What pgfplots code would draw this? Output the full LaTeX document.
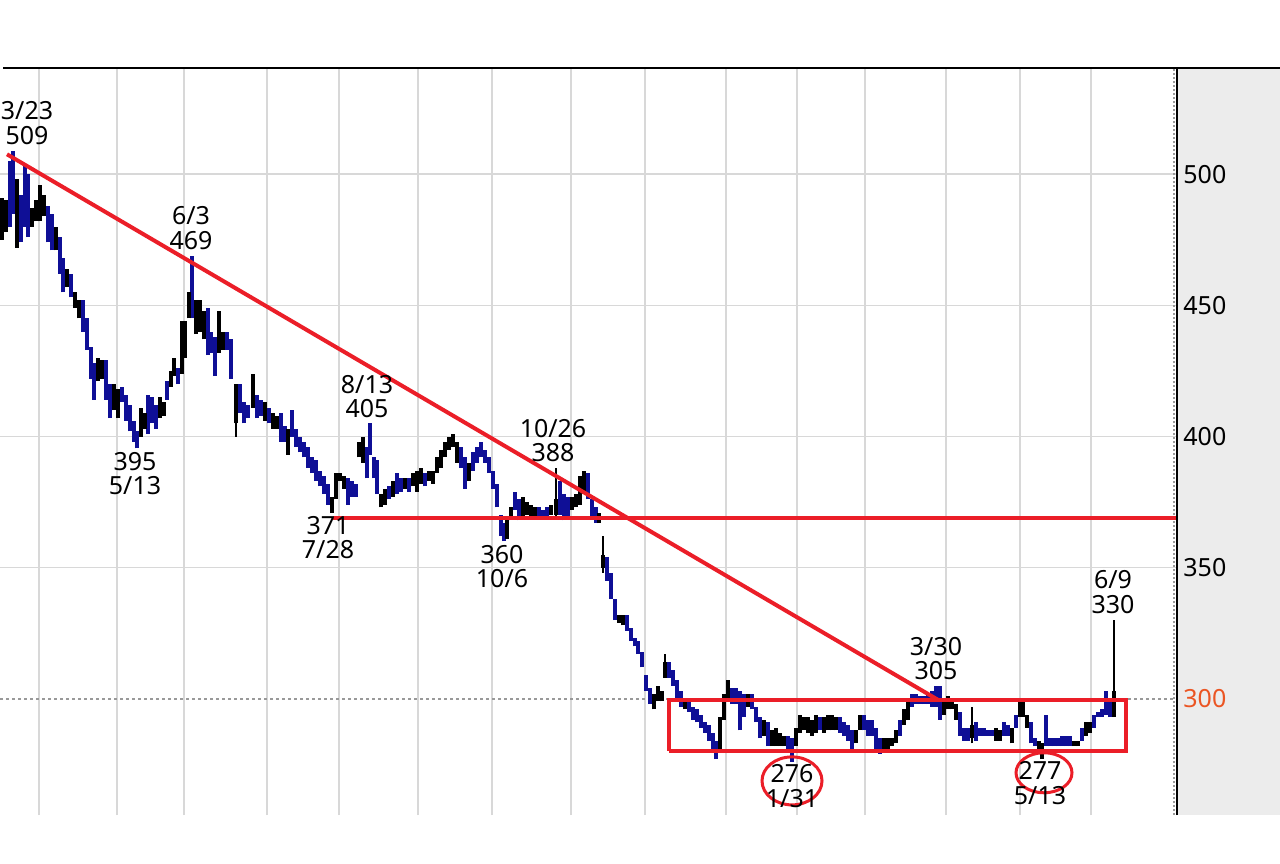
\documentclass[border=0pt]{standalone}
\usepackage{pgfplots}
\pgfplotsset{compat=1.18}
\usepackage{pgfplotstable}
\usepackage{fontspec}
\setmainfont{Noto Sans}
\definecolor{cblue}{RGB}{15,15,150}
\definecolor{cred}{RGB}{235,30,40}
\definecolor{corange}{RGB}{235,85,35}
\definecolor{cgrid}{RGB}{216,216,216}
\definecolor{cpanel}{RGB}{236,236,236}
\newcommand\lbl{\fontsize{12.5bp}{12.3bp}\selectfont}

\pgfplotstableread{
x lo hi
10 480 505
13 485 509
21 474 492
25 480 503
28 476 500
48 474 488
52 471 485
60 462 476
63 455 468
71 453 462
83 440 452
87 433 445
91 422 434
94 414 428
106 414 429
110 407 420
122 413 419
126 406 416
130 402 412
134 398 406
137 395.5 402
148 401 416
152 405 415
156 403 412
167 414 421
178 420 426
192 445 469
208 431 449
211 432 440
215 423 438
227 433 440
231 422 437
240 409 420
244 405 413
248 407 412
257 407 416
261 408 414
269 405 411
281 398 409
285 398 404
292 400 410
296 396 403
300 394 400
304 392 398
308 388 396
312 386 392
316 383 391
320 381 387
324 378 385
328 374 382
348 374 384
352 377 383
356 377 382
367 384 396
370 393 405
374 384 392
377 378 391
389 376 381
397 378 386
401 379 384
409 379 384
425 381 386
461 388 396
465 380 392
473 387 394
477 390 396
481 392 398
485 390 395
489 386 392
493 380 387
497 373 382
501 362 370
504 360 367
515 372 379
519 368 376
539 369 373
543 369 372
547 369 373
560 370 383
564 368 378
568 369 377
588 376 386
592 369 376
596 367 373
607 345 354
611 338 348
615 330 338
627 326 332
631 322 327
635 320 323
638 317 322
642 312 318
646 303 309
650 298 304
669 308 314
673 305 311
677 300 307
681 297 303
689 295 299
693 292 297
697 291 296
701 289 294
705 287 291
709 284 290
713 280 287
716 277 284
732 298 304
736 298 304
740 288 303
744 293 302
752 296 302
756 291 297
760 285 293
768 282 291
788 280 286
792 276 285
820 288 293
840 287 293
844 286 291
848 284 290
852 280 288
864 288 294
868 286 292
872 286 292
876 281 289
880 279 285
900 286 292
912 297 302
916 298 302
920 298 301
924 298 301
928 298 302
932 297 303
936 297 305
940 292 305
960 286 295
964 284 289
968 284 289
976 284 291
980 286 289
984 286 289
988 286 288
992 286 288
1004 286 291
1008 286 290
1016 289 294
1031 283 291
1035 282 285
1046 282 294
1050 282 285
1054 282 285
1058 282 285
1062 282 286
1066 282 286
1070 282 286
1082 284 289
1094 289 294
1098 293 295
1102 293 296
1106 294 303
1110 293 300
}\bluetab

\pgfplotstableread{
x lo hi
2 475 491
6 478 490
17 472 498
32 480 487
36 482 490
40 482 496
44 484 492
56 471 480
67 457 464
75 449 455
79 445 452
98 421 430
102 422 429
114 410 420
118 407 418
141 400 411
145 403 409
160 407 415
164 408 413
171 419 425
174 423 430
182 424 444
185 430 444
189 445 455
196 439 452
200 440 452
204 437 448
219 432 448
223 433 440
236 405 420
253 411 424
265 406 413
273 403 409
277 403 408
288 393 403
332 371 377
336 376 386
340 383 386
344 380 385
359 392 398
363 390 400
381 373 378
385 374 380
393 377 383
405 380 384
413 381 386
417 379 387
421 382 388
429 383 387
433 382 387
437 386 392
441 388 395
445 392 398
449 395 400
453 396 401
457 390 398
469 383 390
507 361 369
511 368 373
523 369 377
527 370 375
531 369 374
535 369 373
551 370 374
556 370 376
572 372 377
576 373 378
580 374 385
584 378 387
599 367 371
603 350 355
619 329 332
623 328 332
654 296 302
658 299 305
662 299 303
665 308 314
685 296 299
720 280 293
724 292 302
728 300 307
748 297 302
764 286 292
772 282 288
776 282 289
780 282 287
784 282 286
796 282 289
800 287 294
804 288 293
808 287 293
812 286 292
816 287 294
824 287 293
828 288 294
832 288 294
836 288 293
856 283 288
860 288 294
884 280 285
888 280 285
892 282 285
896 283 288
904 290 296
908 292 299
944 294 300
948 296 301
952 296 300
956 292 298
972 285 290
996 284 289
1000 284 288
1012 283 289
1020 293 299
1023 293 300
1027 289 294
1039 280 284
1042 277 283
1074 282 284
1078 282 284
1086 286 291
1090 287 291
1114 293 303
}\blacktab

\pgfplotstableread{
x lo hi
236 400 420
556 369 388
603 348 362
665 308 317
972 283 297
1114 293 330
}\wicktab

\begin{document}
\begin{tikzpicture}
\path[use as bounding box] (0,-24.5bp) rectangle (640bp,407.5bp);
\fill[cpanel] (588.5bp,0) rectangle (640bp,373.5bp);
\begin{axis}[
  at={(0,0)}, anchor=south west,
  scale only axis, width=588.5bp, height=373.5bp,
  xmin=0, xmax=1177, ymin=255.7, ymax=540.5,
  axis line style={draw=none},
  tick style={draw=none},
  xtick={39,117,184,267,339,418,492,571,645,726,797,865,946,1020,1091},
  xticklabels={},
  xmajorgrids, ymajorgrids,
  major grid style={cgrid, line width=0.8bp},
  ytick={350,400,450,500},
  yticklabels={350,400,450,500},
  yticklabel pos=right,
  yticklabel style={anchor=west, inner sep=0pt, xshift=3bp, font=\lbl},
  extra y ticks={300},
  extra y tick labels={300},
  extra y tick style={grid=major, major grid style={gray!80, line width=0.8bp, dash pattern=on 1.5bp off 1.5bp}, yticklabel style={text=corange}},
]
\draw[gray!80, line width=1bp, dash pattern=on 1bp off 1bp] (axis cs:1174,255.7) -- (axis cs:1174,540.5);
\addplot[draw=none, no marks, forget plot, error bars/.cd, y dir=plus, y explicit, error mark=none, error bar style={line width=0.6bp, draw=black}] table[x=x, y=lo, y error expr=\thisrow{hi}-\thisrow{lo}] {\wicktab};
\addplot[draw=none, no marks, forget plot, error bars/.cd, y dir=plus, y explicit, error mark=none, error bar style={line width=2.4bp, draw=cblue}] table[x=x, y=lo, y error expr=\thisrow{hi}-\thisrow{lo}] {\bluetab};
\addplot[draw=none, no marks, forget plot, error bars/.cd, y dir=plus, y explicit, error mark=none, error bar style={line width=2.4bp, draw=black}] table[x=x, y=lo, y error expr=\thisrow{hi}-\thisrow{lo}] {\blacktab};
\addplot[cred, line width=2bp, forget plot] coordinates {(7,507.6) (938,299.6)};
\addplot[cred, line width=2bp, forget plot] coordinates {(333,368.8) (1177,368.8)};
\addplot[cred, line width=2bp, line join=miter, forget plot] coordinates {(669,280.2) (1126,280.2) (1126,299.6) (669,299.6) (669,280.2)};
\draw[cred, line width=1.5bp] (axis cs:792,268.7) ellipse [x radius=15bp, y radius=12bp];
\draw[cred, line width=1.5bp] (axis cs:1044,271.8) ellipse [x radius=14bp, y radius=10bp];
\node[align=center, font=\lbl, inner sep=0pt] at (axis cs:27,519.5) {3/23\\509};
\node[align=center, font=\lbl, inner sep=0pt] at (axis cs:191,479.4) {6/3\\469};
\node[align=center, font=\lbl, inner sep=0pt] at (axis cs:135,385.9) {395\\5/13};
\node[align=center, font=\lbl, inner sep=0pt] at (axis cs:367,415.3) {8/13\\405};
\node[align=center, font=\lbl, inner sep=0pt] at (axis cs:328,361.5) {371\\7/28};
\node[align=center, font=\lbl, inner sep=0pt] at (axis cs:553,398.5) {10/26\\388};
\node[align=center, font=\lbl, inner sep=0pt] at (axis cs:502,350.4) {360\\10/6};
\node[align=center, font=\lbl, inner sep=0pt] at (axis cs:936,315.3) {3/30\\305};
\node[align=center, font=\lbl, inner sep=0pt] at (axis cs:1113,340.8) {6/9\\330};
\node[align=center, font=\lbl, inner sep=0pt] at (axis cs:792,266.8) {276\\1/31};
\node[align=center, font=\lbl, inner sep=0pt] at (axis cs:1040,267.9) {277\\5/13};
\end{axis}
\draw[black, line width=1bp] (588.5bp,0) -- (588.5bp,373.5bp);
\draw[black, line width=1bp] (1.5bp,373.5bp) -- (640bp,373.5bp);
\end{tikzpicture}
\end{document}
